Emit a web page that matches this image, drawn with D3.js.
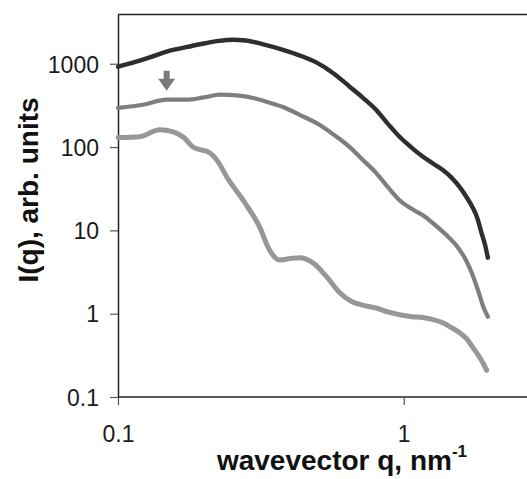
<!DOCTYPE html>
<html>
<head>
<meta charset="utf-8">
<script src="https://cdn.jsdelivr.net/npm/d3@7"></script>
<style>
  body { margin: 0; background: #fff; }
  svg { display: block; }
  text { font-family: "Liberation Sans", Arial, sans-serif; }
</style>
</head>
<body>
<div id="chart"></div>
<script>
// wavevector q (nm^-1) and intensity I(q)
var qTop = [0.1, 0.115, 0.13, 0.148, 0.17, 0.2, 0.225, 0.253, 0.28, 0.32, 0.378, 0.44, 0.496, 0.57, 0.647, 0.72, 0.8, 0.88, 0.967, 1.06, 1.165, 1.27, 1.37, 1.47, 1.57, 1.66, 1.74, 1.81, 1.87, 1.93, 1.97];
var iTop = [920, 1050, 1200, 1400, 1560, 1750, 1880, 1940, 1900, 1720, 1470, 1230, 1030, 760, 530, 390, 280, 190, 133, 100, 77, 63, 53, 43, 33, 25, 19, 14, 9.4, 6.5, 4.7];

var qMid = [0.1, 0.122, 0.148, 0.174, 0.2, 0.228, 0.266, 0.3, 0.33, 0.38, 0.432, 0.507, 0.57, 0.647, 0.72, 0.8, 0.88, 0.967, 1.07, 1.19, 1.31, 1.43, 1.55, 1.65, 1.75, 1.83, 1.9, 1.97];
var iMid = [296, 322, 370, 370, 395, 425, 414, 385, 350, 300, 244, 185, 140, 100, 70, 49, 33, 23, 18, 14.5, 11, 8.4, 6.2, 4.4, 2.8, 1.8, 1.2, 0.92];

var qLow = [0.1, 0.119, 0.14, 0.156, 0.17, 0.183, 0.21, 0.225, 0.24, 0.274, 0.313, 0.339, 0.368, 0.4, 0.432, 0.48, 0.536, 0.596, 0.66, 0.73, 0.8, 0.88, 0.967, 1.07, 1.165, 1.27, 1.37, 1.47, 1.57, 1.66, 1.74, 1.82, 1.89, 1.95];
var iLow = [130, 133, 161, 152, 130, 100, 85, 65, 44, 23, 11, 5.8, 4.4, 4.6, 4.7, 4.1, 2.8, 1.8, 1.39, 1.25, 1.17, 1.05, 0.97, 0.92, 0.9, 0.85, 0.78, 0.68, 0.59, 0.5, 0.4, 0.32, 0.26, 0.21];

var xTicks = [0.1, 1];
var yTicks = [0.1, 1, 10, 100, 1000];
var arrowQ = 0.148; // feature marked on the middle curve

var width = 527, height = 479;
var x = d3.scaleLog().domain([0.1, 2.8]).range([118, 531.5]);
var y = d3.scaleLog().domain([0.1, 3900]).range([397, 14.5]);

var svg = d3.select("#chart").append("svg")
  .attr("width", width)
  .attr("height", height);

// frame
svg.append("line")
  .attr("x1", 118).attr("x2", width)
  .attr("y1", 14.5).attr("y2", 14.5)
  .attr("stroke", "#222").attr("stroke-width", 1.5);

var xAxis = svg.append("g")
  .attr("transform", "translate(0,397)")
  .call(d3.axisBottom(x).tickValues(xTicks).tickSize(8).tickSizeOuter(0)
    .tickFormat(d3.format("")));
var yAxis = svg.append("g")
  .attr("transform", "translate(118,0)")
  .call(d3.axisLeft(y).tickValues(yTicks).tickSize(8).tickSizeOuter(0)
    .tickFormat(d3.format("")));

[xAxis, yAxis].forEach(function (g) {
  g.select(".domain").attr("stroke", "#222").attr("stroke-width", 1.5);
  g.selectAll(".tick line").attr("stroke", "#555").attr("stroke-width", 1.2);
  g.selectAll("text").attr("font-size", 23).attr("fill", "#1a1a1a")
    .style("font-family", "'Liberation Sans', Arial, sans-serif");
});
xAxis.select(".domain").attr("d", "M118,0H" + width);
xAxis.selectAll(".tick text").attr("dy", 0).attr("y", 45);
yAxis.selectAll(".tick text").attr("x", -19).attr("dy", "0.36em");

var line = d3.line()
  .x(function (d) { return x(d[0]); })
  .y(function (d) { return y(d[1]); })
  .curve(d3.curveMonotoneX);

var series = [
  { q: qLow, i: iLow, color: "#979797", w: 5 },
  { q: qMid, i: iMid, color: "#7e7e7e", w: 4.2 },
  { q: qTop, i: iTop, color: "#2e2e2e", w: 4.4 }
];

series.forEach(function (s) {
  svg.append("path")
    .datum(d3.zip(s.q, s.i))
    .attr("d", line)
    .attr("fill", "none")
    .attr("stroke", s.color)
    .attr("stroke-width", s.w)
    .attr("stroke-linejoin", "round")
    .attr("stroke-linecap", "round");
});

// arrow pointing at the shoulder of the middle curve
var ax = x(arrowQ), tip = y(iMid[2]) - 9;
svg.append("path")
  .attr("d", "M" + (ax - 3) + "," + (tip - 20) + "H" + (ax + 3) + "V" + (tip - 12) +
    "H" + (ax + 8.5) + "L" + ax + "," + tip + "L" + (ax - 8.5) + "," + (tip - 12) +
    "H" + (ax - 3) + "Z")
  .attr("fill", "#7a7a7a");

// axis titles
svg.append("text")
  .attr("x", 342).attr("y", 470)
  .attr("text-anchor", "middle")
  .attr("font-size", 28).attr("font-weight", "bold").attr("fill", "#111")
  .text("wavevector q, nm")
  .append("tspan")
  .attr("font-size", 17).attr("dy", -13)
  .text("-1");

svg.append("text")
  .attr("transform", "translate(38,190) rotate(-90)")
  .attr("text-anchor", "middle")
  .attr("font-size", 28).attr("font-weight", "bold").attr("fill", "#111")
  .text("I(q), arb. units");
</script>
</body>
</html>
